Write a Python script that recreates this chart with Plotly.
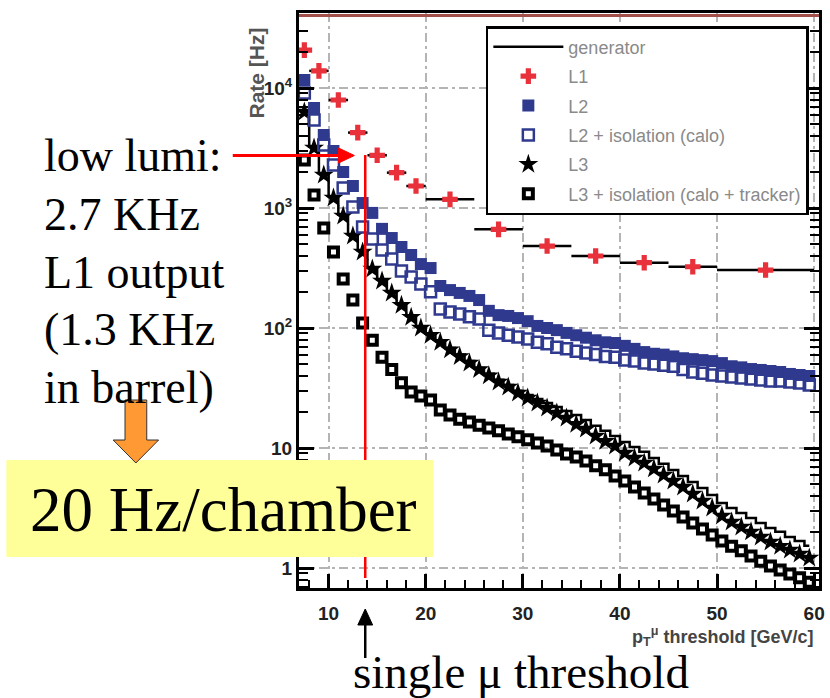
import plotly.graph_objects as go

# ---------------- data ----------------
pt = [7.5, 8.5, 9.5, 10.5, 11.5, 12.5, 13.5, 14.5, 15.5, 16.5, 17.5, 18.5, 19.5, 20.5,
      21.5, 22.5, 23.5, 24.5, 25.5, 26.5, 27.5, 28.5, 29.5, 30.5,
      31.5, 32.5, 33.5, 34.5, 35.5, 36.5, 37.5, 38.5, 39.5, 40.5,
      41.5, 42.5, 43.5, 44.5, 45.5, 46.5, 47.5, 48.5, 49.5, 50.5,
      51.5, 52.5, 53.5, 54.5, 55.5, 56.5, 57.5, 58.5, 59.5]

generator = [6500, 3250, 1950, 1250, 880, 600, 445, 320, 254, 202, 160, 127, 103, 90,
             79, 68, 60, 53, 46.5, 41.5, 37, 33.5, 30, 27.7,
             25.6, 23.7, 22, 20.3, 18.8, 17.1, 15.3, 13.9, 12.6, 11.2,
             10.2, 9.3, 8.25, 7.4, 6.55, 5.85, 5.2, 4.64, 4.06, 3.48,
             3.16, 2.87, 2.61, 2.37, 2.15, 2.0, 1.81, 1.68, 1.53]

l1_pt = [7.5, 9, 11, 13, 15, 17, 19, 22.5, 27.5, 32.5, 37.5, 42.5, 47.5, 55]
l1_halfwidth = [0.5, 1, 1, 1, 1, 1, 1, 2.5, 2.5, 2.5, 2.5, 2.5, 2.5, 5]
l1_rate = [20700, 13900, 7940, 4250, 2750, 1970, 1525, 1180, 664, 482, 398, 350, 324, 304]

l2_rate = [11660, 6810, 4060, 2985, 1995, 1525, 1100, 910, 670, 562, 473, 406, 341, 316,
           224, 207, 196, 185, 171, 139, 128, 126, 121, 114,
           104, 100, 96, 91, 87, 83, 79, 76, 75, 71,
           67, 63, 61, 60, 58, 56, 55, 54, 53, 51,
           48, 47, 45.5, 44.7, 43.8, 43, 41.4, 40.6, 39.8]

l2_iso_rate = [9090, 5410, 3350, 2280, 1468, 1020, 695, 552, 447, 376, 299, 266, 233, 200,
               144, 136, 131, 124, 119, 96, 91, 87, 84, 81,
               76, 74, 69, 67, 64, 62, 60, 58, 57, 54,
               53, 51, 50, 49, 48, 45, 43, 42, 40.6, 39.8,
               39, 38.3, 37.6, 36.9, 36.1, 36.1, 35.5, 34.8, 33.5]

l3_rate = [6310, 3160, 1885, 1212, 858, 584, 430, 310, 246, 196, 155, 123, 100, 87,
           76, 66, 58, 51, 45, 40, 35.5, 32.2, 28.7, 26.1,
           23.7, 21.5, 19.6, 17.8, 15.8, 14.4, 12.6, 11.4, 10.4, 9.1,
           8.25, 7.5, 6.7, 5.96, 5.3, 4.73, 4.14, 3.62, 3.16, 2.71,
           2.42, 2.2, 2.0, 1.81, 1.65, 1.52, 1.41, 1.31, 1.21]

l3_iso_rate = [2510, 1283, 681, 430, 256, 171, 110, 79, 57, 45, 35, 29.3, 27.1, 25.1,
               20.7, 18.8, 17.4, 16.5, 15.5, 14.7, 13.9, 13.1, 12.4, 11.7,
               11.0, 10.4, 9.6, 8.9, 8.4, 7.8, 7.1, 6.6, 5.85, 5.3,
               4.73, 4.22, 3.76, 3.35, 2.99, 2.66, 2.37, 2.11, 1.88, 1.68,
               1.52, 1.39, 1.26, 1.14, 1.04, 0.96, 0.89, 0.83, 0.76]

y_tickvals = [1, 10, 100, 1000, 10000]
y_ticktext = ["1", "10", "10<sup>2</sup>", "10<sup>3</sup>", "10<sup>4</sup>"]

# ---------------- layout helpers (pixel -> paper) ----------------
W, H = 830, 698
ML, MR, MT, MB = 299, 5, 13, 110
PW, PH = W - ML - MR, H - MT - MB


def px(x):
    return (x - ML) / PW


def py(y):
    return (H - MB - y) / PH


BLUE = "#2f3a8f"
RED = "#e8313a"
Y_RANGE = [-0.1667, 4.625]

fig = go.Figure()

fig.add_trace(go.Scatter(x=pt, y=generator, name="generator", mode="lines",
                         line=dict(color="black", width=2.5, shape="hvh"),
                         legendgroup="g", legendrank=1))
fig.add_trace(go.Scatter(x=pt, y=l3_rate, name="L3", mode="markers",
                         marker=dict(symbol="star", size=15, color="black"),
                         legendgroup="l3", legendrank=5))
fig.add_trace(go.Scatter(x=pt, y=l3_iso_rate, name="L3 + isolation (calo + tracker)",
                         mode="markers",
                         marker=dict(symbol="square-open", size=9, color="black",
                                     line=dict(width=4, color="black")),
                         legendgroup="l3i", legendrank=6))
fig.add_trace(go.Scatter(x=pt, y=l2_iso_rate, name="L2 + isolation (calo)", mode="markers",
                         marker=dict(symbol="square-open", size=11, color=BLUE,
                                     line=dict(width=2.5, color=BLUE)),
                         legendgroup="l2i", legendrank=4))
fig.add_trace(go.Scatter(x=pt, y=l2_rate, name="L2", mode="markers",
                         marker=dict(symbol="square", size=12, color=BLUE),
                         legendgroup="l2", legendrank=3))
fig.add_trace(go.Scatter(x=l1_pt, y=l1_rate, name="L1", mode="markers",
                         marker=dict(symbol="cross", size=13, color=RED),
                         error_x=dict(type="data", array=l1_halfwidth, color="black",
                                      thickness=2.5, width=0),
                         legendgroup="l1", legendrank=2))
# transparent helper trace so the minor-tick overlay axis gets drawn
fig.add_trace(go.Scatter(x=[30], y=[10], yaxis="y2", mode="markers",
                         marker=dict(opacity=0, size=1), showlegend=False,
                         hoverinfo="skip"))

grid_dash = "9px,4px,3px,4px"
y_minor = [m * 10 ** e for e in range(-1, 5) for m in range(2, 10)
           if 0.68 < m * 10 ** e < 42000]

fig.update_xaxes(range=[6.95, 60.5], tick0=0, dtick=10, ticks="inside", ticklen=14,
                 tickwidth=2.5, tickcolor="black", showline=True, linewidth=3,
                 linecolor="black", mirror=True, showgrid=True, gridcolor="#b4b4b4",
                 gridwidth=2, griddash=grid_dash, zeroline=False,
                 tickfont=dict(family="Liberation Sans", size=19, color="#222",
                               weight="bold"),
                 ticklabelstandoff=6,
                 minor=dict(ticks="inside", ticklen=8, tickwidth=2, tickcolor="black",
                            dtick=2, tick0=0, showgrid=False))

fig.update_layout(
    yaxis=dict(type="log", range=Y_RANGE, tickvals=y_tickvals,
               ticktext=y_ticktext, ticks="inside", ticklen=15, tickwidth=2.5,
               tickcolor="black", showline=True, linewidth=3, linecolor="black",
               mirror="ticks", showgrid=True, gridcolor="#b4b4b4", gridwidth=2,
               griddash=grid_dash, zeroline=False,
               tickfont=dict(family="Liberation Sans", size=19, color="#222",
                             weight="bold")),
    yaxis2=dict(type="log", range=Y_RANGE, overlaying="y", side="left",
                tickmode="array", tickvals=y_minor, ticktext=[""] * len(y_minor),
                ticks="inside", ticklen=9, tickwidth=2.2, tickcolor="black",
                mirror="ticks", showline=True, linewidth=3, linecolor="black",
                showgrid=False, zeroline=False),
)

serif = "Liberation Serif"
annotations = []
left_lines = [("low lumi:", 171), ("2.7 KHz", 230), ("L1 output", 288),
              ("(1.3 KHz", 345), ("in barrel)", 403)]
for txt, base in left_lines:
    annotations.append(dict(text=txt, x=px(39), y=py(base - 15.5), xref="paper",
                            yref="paper", xanchor="left", yanchor="middle",
                            showarrow=False,
                            font=dict(family=serif, size=46, color="black")))
annotations.append(dict(text="20 Hz/chamber", x=px(25), y=py(531 - 21), xref="paper",
                        yref="paper", xanchor="left", yanchor="middle", showarrow=False,
                        font=dict(family=serif, size=63, color="black")))
annotations.append(dict(text="single \u03bc threshold", x=px(352), y=py(688 - 16),
                        xref="paper", yref="paper", xanchor="left", yanchor="middle",
                        showarrow=False, font=dict(family=serif, size=47, color="black")))
annotations.append(dict(text="Rate [Hz]", x=px(257), y=py(73), xref="paper", yref="paper",
                        xanchor="center", yanchor="middle", textangle=-90,
                        showarrow=False,
                        font=dict(family="Liberation Sans", size=21, color="#555",
                                  weight="bold")))
annotations.append(dict(text="p<sub>T</sub><sup>\u03bc</sup> threshold [GeV/c]",
                        x=px(821), y=py(636), xref="paper", yref="paper",
                        xanchor="right", yanchor="middle", showarrow=False,
                        font=dict(family="Liberation Sans", size=18, color="#444",
                                  weight="bold")))

shapes = [
    dict(type="line", xref="paper", yref="paper", x0=0, x1=1, y0=py(15.5), y1=py(15.5),
         line=dict(color="#a3504a", width=3), layer="above"),
    dict(type="line", xref="paper", yref="paper", x0=px(366), x1=px(366),
         y0=py(155), y1=py(578), line=dict(color="#ff0000", width=2.5), layer="above"),
    dict(type="line", xref="paper", yref="paper", x0=px(232), x1=px(342),
         y0=py(155.5), y1=py(155.5), line=dict(color="#ff0000", width=3), layer="above"),
    dict(type="path", xref="paper", yref="paper",
         path=f"M{px(339)},{py(148)} L{px(355)},{py(155.5)} L{px(339)},{py(163)} Z",
         fillcolor="#ff0000", line=dict(color="#ff0000", width=1), layer="above"),
    dict(type="rect", xref="paper", yref="paper", x0=px(3), x1=px(435), y0=py(557),
         y1=py(460), fillcolor="#ffff99", line=dict(width=0), layer="above"),
    dict(type="path", xref="paper", yref="paper",
         path=(f"M{px(123)},{py(400)} L{px(145)},{py(400)} L{px(145)},{py(440)} "
               f"L{px(157)},{py(440)} L{px(134)},{py(463)} L{px(111)},{py(440)} "
               f"L{px(123)},{py(440)} Z"),
         fillcolor="#ff9933", line=dict(color="#333333", width=1), layer="above"),
    dict(type="line", xref="paper", yref="paper", x0=px(366), x1=px(366),
         y0=py(658), y1=py(622), line=dict(color="black", width=2.5), layer="above"),
    dict(type="path", xref="paper", yref="paper",
         path=f"M{px(358.5)},{py(625)} L{px(366)},{py(609)} L{px(373.5)},{py(625)} Z",
         fillcolor="black", line=dict(color="black", width=1), layer="above"),
]

fig.update_layout(
    width=W, height=H,
    margin=dict(l=ML, r=MR, t=MT, b=MB, pad=0),
    paper_bgcolor="white", plot_bgcolor="white",
    showlegend=True,
    legend=dict(x=px(488), y=py(26), xanchor="left", yanchor="top",
                bgcolor="white", bordercolor="black", borderwidth=2.5,
                font=dict(family="Liberation Sans", size=18, color="#8a8a8a"),
                tracegroupgap=3, itemwidth=70),
    annotations=annotations,
    shapes=shapes,
)

fig.write_html("out.html")
